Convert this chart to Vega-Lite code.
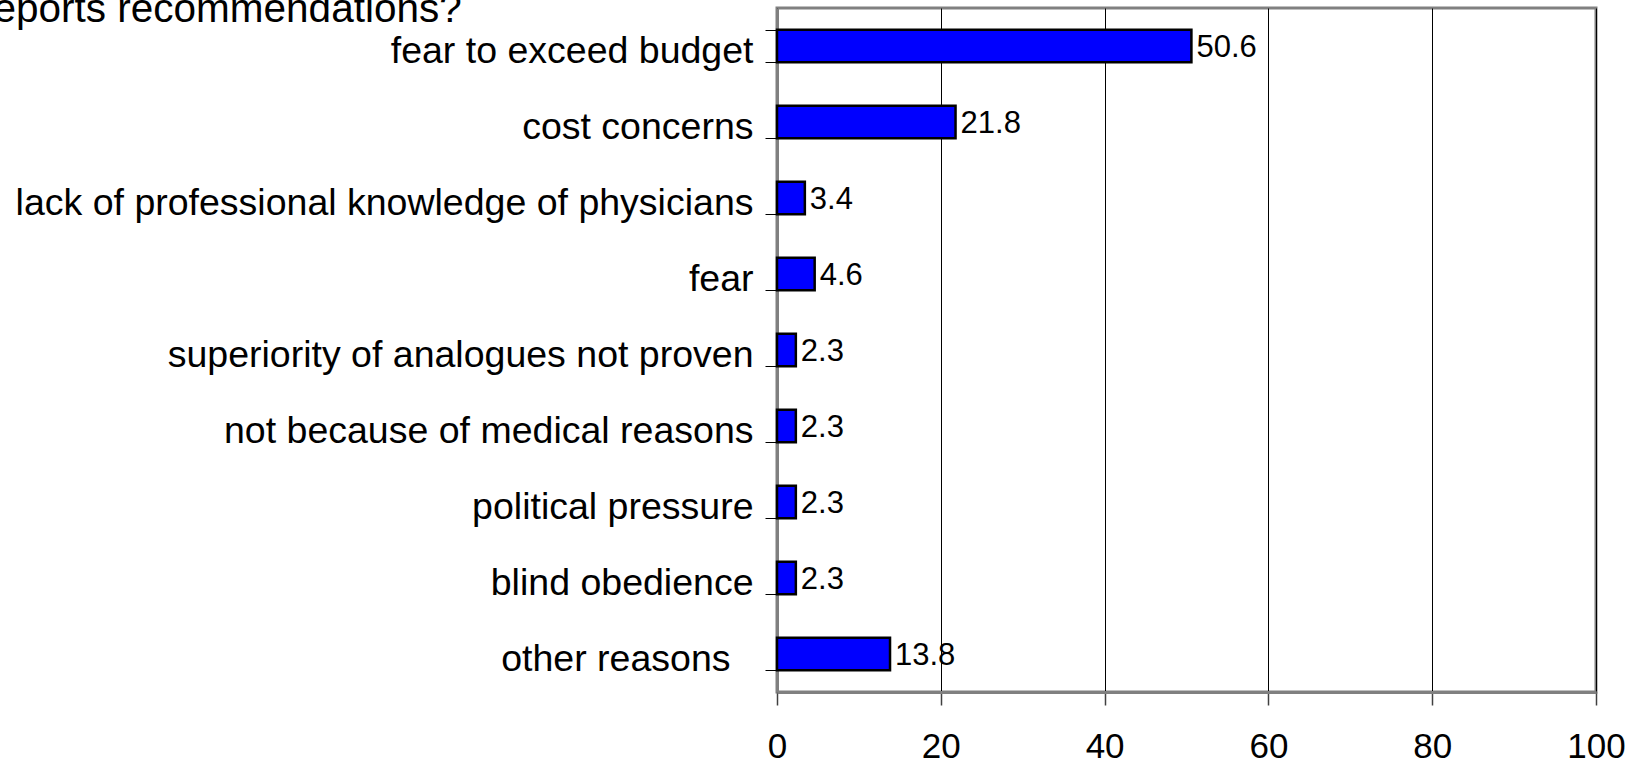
{
  "$schema": "https://vega.github.io/schema/vega-lite/v6.json",
  "width": 819,
  "height": 684,
  "autosize": {"type": "none"},
  "padding": {"left": 777, "top": 8, "right": 43, "bottom": 73},
  "background": "white",
  "title": {
    "text": "reports recommendations?",
    "anchor": "start",
    "frame": "group",
    "orient": "top",
    "offset": 0,
    "dx": -797,
    "dy": 73,
    "baseline": "alphabetic",
    "fontSize": 40.5,
    "fontWeight": "normal",
    "font": "Liberation Sans",
    "color": "black"
  },
  "config": {
    "view": {"stroke": "#808080", "strokeWidth": 3},
    "font": "Liberation Sans"
  },
  "data": {
    "values": [
      {"reason": "fear to exceed budget", "pct": 50.6},
      {"reason": "cost concerns", "pct": 21.8},
      {"reason": "lack of professional knowledge of physicians", "pct": 3.4},
      {"reason": "fear", "pct": 4.6},
      {"reason": "superiority of analogues not proven", "pct": 2.3},
      {"reason": "not because of medical reasons", "pct": 2.3},
      {"reason": "political pressure", "pct": 2.3},
      {"reason": "blind obedience", "pct": 2.3},
      {"reason": "other reasons", "pct": 13.8}
    ]
  },
  "encoding": {
    "y": {
      "field": "reason",
      "type": "nominal",
      "sort": null,
      "scale": {"paddingInner": 0.57, "paddingOuter": 0.285},
      "axis": {
        "title": null,
        "domain": true,
        "domainColor": "#808080",
        "domainWidth": 3,
        "ticks": true,
        "tickBand": "extent",
        "tickSize": 12,
        "tickColor": "black",
        "tickWidth": 1,
        "labelFontSize": 37.5,
        "labelColor": "black",
        "labelPadding": {"condition": {"test": "datum.value == 'other reasons'", "value": 35}, "value": 12},
        "labelOffset": 5,
        "labelLimit": 0,
        "grid": false
      }
    }
  },
  "layer": [
    {
      "mark": {"type": "bar", "fill": "#0000FF", "stroke": "black", "strokeWidth": 2.5},
      "encoding": {
        "x": {
          "field": "pct",
          "type": "quantitative",
          "scale": {"domain": [0, 100], "nice": false},
          "axis": {
            "title": null,
            "values": [0, 20, 40, 60, 80, 100],
            "grid": true,
            "gridColor": "black",
            "gridWidth": 1,
            "gridOpacity": 1,
            "domainColor": "#808080",
            "domainWidth": 3,
            "tickColor": "#404040",
            "tickSize": 13,
            "tickWidth": 1.5,
            "labelFontSize": 35,
            "labelColor": "black",
            "labelPadding": 24,
            "labelFlush": false
          }
        }
      }
    },
    {
      "mark": {"type": "text", "align": "left", "baseline": "middle", "dx": 5, "dy": 2, "fontSize": 31, "color": "black"},
      "encoding": {
        "x": {"field": "pct", "type": "quantitative"},
        "text": {"field": "pct", "type": "quantitative", "format": ".1f"}
      }
    }
  ]
}
